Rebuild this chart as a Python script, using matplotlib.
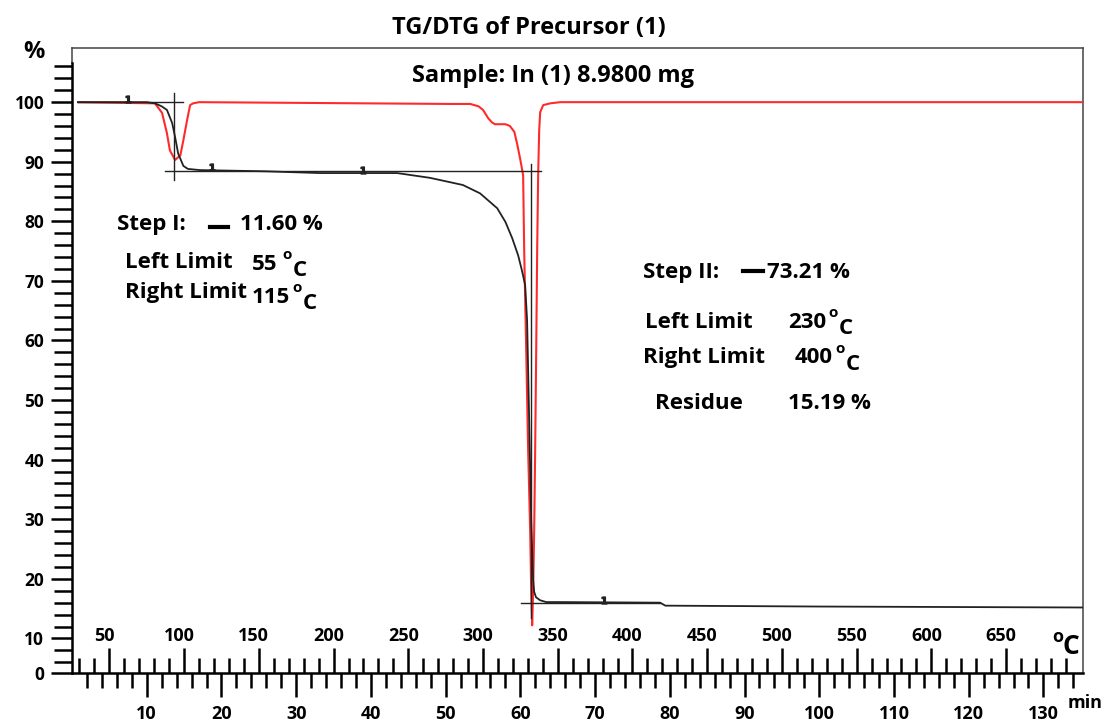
import matplotlib.pyplot as plt
from matplotlib.lines import Line2D
import numpy as np

plt.rcParams['font.family'] = ['Open Sans', 'DejaVu Sans']
plt.rcParams['font.weight'] = 'bold'

# TG curve (mass %) against time in minutes
tg_time = [0.8, 10.0, 11.1, 12.0, 12.7, 13.4, 13.8, 14.2, 14.9, 15.5, 17.1, 25.8,
           33.2, 43.5, 47.9, 52.3, 54.6, 56.9, 58.0, 58.9, 59.7, 60.2, 60.64, 60.9,
           61.18, 61.45, 61.71, 61.85, 62.1, 62.65, 63.45, 65.3, 78.7, 79.4, 100.0, 135.3]
tg_mass = [100.0, 100.0, 99.8, 99.3, 98.7, 96.5, 94.1, 91.4, 89.3, 88.8, 88.6, 88.4,
           88.1, 88.1, 87.3, 86.1, 84.7, 82.2, 79.9, 77.2, 74.3, 71.8, 69.3, 63.4,
           46.6, 29.9, 19.8, 17.8, 16.9, 16.4, 16.1, 16.1, 16.0, 15.5, 15.35, 15.19]

# DTG curve, scaled onto the same axis
dtg_time = [0.8, 11.1, 12.05, 12.7, 13.1, 13.8, 14.5, 14.9, 15.4, 15.8, 16.2, 17.0,
            50.6, 53.3, 54.4, 55.0, 55.7, 56.2, 56.6, 58.0, 58.6, 59.2, 59.6, 60.0,
            60.37, 60.51, 60.78, 61.04, 61.31, 61.45, 61.58, 61.71, 61.85, 61.98,
            62.12, 62.25, 62.38, 62.52, 62.65, 63.05, 63.99, 65.33, 135.3]
dtg_val = [100.0, 99.8, 98.2, 94.8, 91.9, 90.3, 91.1, 93.6, 97.0, 99.5, 99.8, 100.0,
           99.7, 99.7, 99.3, 98.7, 97.3, 96.6, 96.3, 96.3, 96.0, 95.0, 92.8, 90.3,
           87.75, 75.2, 58.4, 41.6, 28.2, 18.1, 12.2, 18.1, 28.2, 41.6,
           58.4, 75.2, 87.75, 95.3, 98.3, 99.5, 99.8, 100.0, 100.0]

# step evaluation
step1_loss = 11.60
step2_loss = 73.21
residue = 15.19
step1_start, step1_end = 0.8, 14.9
step1_tangent = 13.65
step2_tangent = 61.45
plateau = 100 - step1_loss

# small point markers along the TG trace
mark_time = [7.5, 18.7, 39.0, 71.2]
mark_mass = [100.6, 89.1, 88.6, 16.5]

# axis ticks
y_labels = [10, 20, 30, 40, 50, 60, 70, 80, 90, 100]
min_labels = list(range(10, 131, 10))
temp_labels = list(range(50, 651, 50))
t_start, rate = 25, 5  # °C, K/min

fig = plt.figure(figsize=(11.03, 7.22), dpi=100)
ax = fig.add_axes([0.0653, 0.0679, 0.9166, 0.8657])
ybot, ytop = 4.2, 109.1
ax.set_xlim(0, 135.3)
ax.set_ylim(ybot, ytop)

ax.plot(dtg_time, dtg_val, color='#ff2b2b', lw=1.5, zorder=3)
ax.plot(tg_time, tg_mass, color='#222222', lw=1.3, zorder=4)

# step construction lines
kw = dict(color='#222222', lw=1.0, zorder=4)
ax.plot([step1_start, step1_end], [100, 100], **kw)
ax.plot([step1_tangent, step1_tangent], [101.5, 86.9], **kw)
ax.plot([12.4, 62.8], [plateau, plateau], **kw)
ax.plot([step2_tangent, step2_tangent], [89.6, 13.4], **kw)
ax.plot([60.1, 78.7], [16.0, 16.0], **kw)
ax.plot(mark_time, mark_mass, ls='none', marker='$1$', ms=5, color='#222222', zorder=5)

# frame
for s in ['top', 'right']:
    ax.spines[s].set_linewidth(1.1)
    ax.spines[s].set_color('#444444')
ax.spines['left'].set_linewidth(1.8)
ax.spines['left'].set_bounds(ybot, 106.5)
ax.spines['bottom'].set_linewidth(1.8)
ax.plot([0, 0], [106.5, ytop], color='#444444', lw=1.1, clip_on=False)

# y axis
ax.set_yticks([ybot] + y_labels)
ax.set_yticklabels(['0'] + [str(v) for v in y_labels], fontsize=12.5, fontweight='bold')
ax.set_yticks([v for v in range(6, 107, 2) if v % 10], minor=True)
ax.tick_params(axis='y', which='major', direction='out', length=15, width=1.8, pad=5)
ax.tick_params(axis='y', which='minor', direction='out', length=13, width=1.8)

# time axis (min) below
ax.set_xticks(min_labels)
ax.set_xticklabels([str(v) for v in min_labels], fontsize=13, fontweight='bold')
ax.set_xticks(range(2, 135, 2), minor=True)
ax.tick_params(axis='x', which='major', direction='out', length=17, width=1.8, pad=6)
ax.tick_params(axis='x', which='minor', direction='out', length=11, width=1.8)

# temperature axis (°C) drawn on top of the time axis
sec = ax.secondary_xaxis('bottom', functions=(lambda m: t_start + rate * m,
                                               lambda t: (t - t_start) / rate))
sec.set_xticks(temp_labels)
sec.set_xticks(range(30, 691, 10), minor=True)
sec.tick_params(which='major', direction='in', length=18, width=1.8, labelbottom=False)
sec.tick_params(which='minor', direction='in', length=11, width=1.8)
sec.spines['bottom'].set_visible(False)
for t in temp_labels:
    ax.annotate(str(t), xy=((t - t_start) / rate, 0), xycoords=('data', 'axes fraction'),
                xytext=(-3.6, 26.5), textcoords='offset points',
                ha='center', va='center', fontsize=13, fontweight='bold')

# titles and unit labels
fig.text(0.4796, 0.9612, 'TG/DTG of Precursor (1)', ha='center', va='center', fontsize=17)
fig.text(0.5014, 0.8947, 'Sample: In (1) 8.9800 mg', ha='center', va='center', fontsize=17)
fig.text(0.0308, 0.9280, '%', ha='center', va='center', fontsize=17)
fig.text(0.9592, 0.1177, 'o', ha='center', va='center', fontsize=13)
fig.text(0.9710, 0.1039, 'C', ha='center', va='center', fontsize=19)
fig.text(0.9837, 0.0263, 'min', ha='center', va='center', fontsize=13)

# step annotations
big = 16
def txt(x, y, s, size=big):
    fig.text(x, y, s, ha='left', va='center', fontsize=size)

def deg(x, y):
    txt(x, y + 0.0125, 'o', 11)
    txt(x + 0.0095, y - 0.0085, 'C', big)

txt(0.1061, 0.6884, 'Step I:')
fig.add_artist(Line2D([0.1904, 0.2067], [0.6856, 0.6856], lw=3, color='k'))
txt(0.2176, 0.6884, f'{step1_loss:.2f} %')
txt(0.1133, 0.6371, 'Left Limit')
txt(0.2285, 0.6343, '55')
deg(0.2557, 0.6343)
txt(0.1133, 0.5942, 'Right Limit')
txt(0.2285, 0.5886, '115')
deg(0.2647, 0.5886)

txt(0.5830, 0.6219, 'Step II:')
fig.add_artist(Line2D([0.6736, 0.6918], [0.6247, 0.6247], lw=3, color='k'))
txt(0.6954, 0.6219, f'{step2_loss:.2f} %')
txt(0.5848, 0.5540, 'Left Limit')
txt(0.7144, 0.5540, '230')
deg(0.7507, 0.5540)
txt(0.5830, 0.5055, 'Right Limit')
txt(0.7208, 0.5042, '400')
deg(0.7570, 0.5042)
txt(0.5938, 0.4418, 'Residue')
txt(0.7144, 0.4418, f'{residue:.2f} %')

fig.savefig('out.png', dpi=100)
